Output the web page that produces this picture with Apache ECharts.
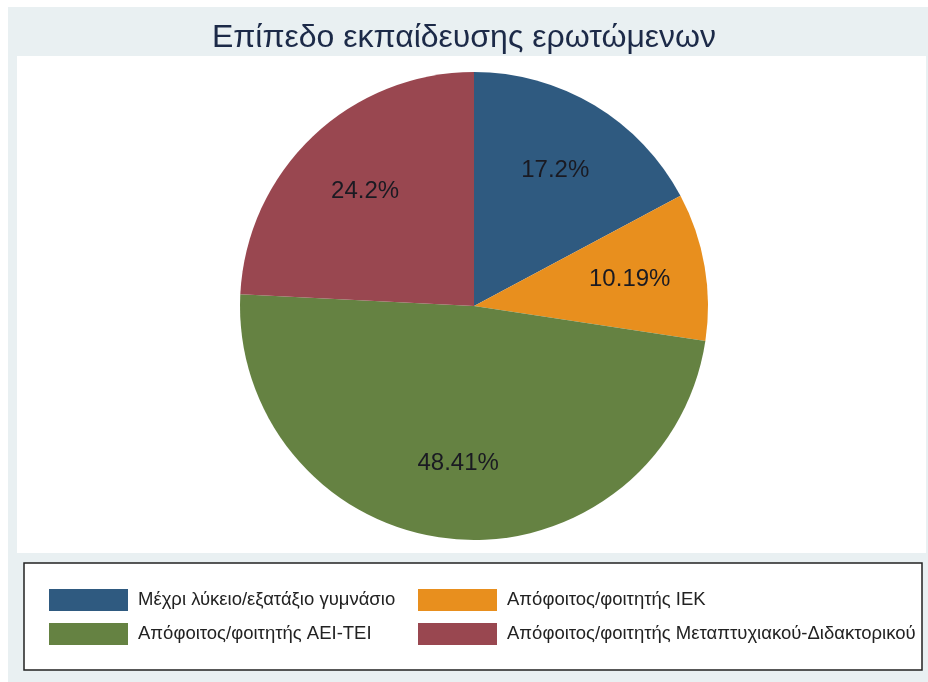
<!DOCTYPE html>
<html>
<head>
<meta charset="utf-8">
<script src="https://cdn.jsdelivr.net/npm/echarts@6/dist/echarts.min.js"></script>
<style>
  html, body { margin: 0; padding: 0; background: #fff; }
  #chart { width: 928px; height: 682px; }
</style>
</head>
<body>
<div id="chart"></div>
<script>
// pie slices, clockwise from 12 o'clock
const categories = [
  'Μέχρι λύκειο/εξατάξιο γυμνάσιο',
  'Απόφοιτος/φοιτητής ΙΕΚ',
  'Απόφοιτος/φοιτητής ΑΕΙ-ΤΕΙ',
  'Απόφοιτος/φοιτητής Μεταπτυχιακού-Διδακτορικού'
];
const shares = [17.2, 10.19, 48.41, 24.2];
const colors = ['#2f5a80', '#e88f1e', '#658242', '#994750'];

const FONT = 'Liberation Sans, Arial, sans-serif';

const chart = echarts.init(document.getElementById('chart'));

const pieData = categories.map((name, i) => ({
  name: name,
  value: shares[i],
  itemStyle: { color: colors[i] }
}));

const legendBase = {
  orient: 'vertical',
  top: 589,
  padding: 0,
  itemWidth: 79,
  itemHeight: 22,
  itemGap: 12,
  icon: 'rect',
  selectedMode: false,
  textStyle: { fontFamily: FONT, fontSize: 18.5, color: '#222', padding: [0, 0, 0, 5] }
};

const option = {
  backgroundColor: '#ffffff',
  animation: false,
  title: {
    text: 'Επίπεδο εκπαίδευσης ερωτώμενων',
    left: 'center',
    top: 17,
    textStyle: { fontFamily: FONT, fontSize: 32, fontWeight: 'normal', color: '#1c2a48' }
  },
  graphic: [
    // outer light background
    { type: 'rect', z: -10, silent: true, shape: { x: 8, y: 7, width: 920, height: 675 }, style: { fill: '#e9f0f2' } },
    // plot region
    { type: 'rect', z: -9, silent: true, shape: { x: 17, y: 56, width: 909, height: 497 }, style: { fill: '#ffffff' } },
    // legend box
    { type: 'rect', z: -8, silent: true, shape: { x: 24, y: 563, width: 898, height: 107 }, style: { fill: '#ffffff', stroke: '#222', lineWidth: 1.5 } }
  ],
  legend: [
    Object.assign({}, legendBase, { data: [categories[0], categories[2]], left: 49 }),
    Object.assign({}, legendBase, { data: [categories[1], categories[3]], left: 418 })
  ],
  series: [
    {
      type: 'pie',
      center: [474, 306],
      radius: [0, 234],
      startAngle: 90,
      clockwise: true,
      silent: true,
      label: { show: false },
      labelLine: { show: false },
      emphasis: { disabled: true },
      data: pieData
    },
    // transparent ring only to place the percentage labels further out
    {
      type: 'pie',
      center: [474, 306],
      radius: [76, 234],
      startAngle: 90,
      clockwise: true,
      silent: true,
      legendHoverLink: false,
      itemStyle: { color: 'rgba(0,0,0,0)' },
      label: {
        show: true,
        position: 'inside',
        formatter: '{c}%',
        fontFamily: FONT,
        fontSize: 24,
        color: '#1a1a22'
      },
      labelLine: { show: false },
      emphasis: { disabled: true },
      data: categories.map((name, i) => ({ name: name + ' ', value: shares[i] }))
    }
  ]
};

chart.setOption(option);
</script>
</body>
</html>
